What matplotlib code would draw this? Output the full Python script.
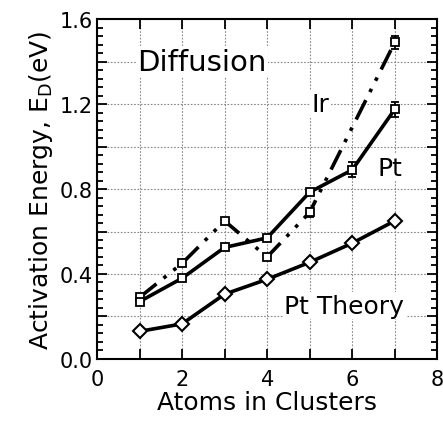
import numpy as np
import matplotlib.pyplot as plt
from matplotlib.ticker import MultipleLocator

# Diffusion barriers of small clusters vs. number of atoms
atoms = [1, 2, 3, 4, 5, 6, 7]

pt_ed = [0.27, 0.38, 0.525, 0.57, 0.785, 0.89, 1.175]
pt_err = [0.0, 0.0, 0.0, 0.0, 0.015, 0.035, 0.035]

ir_atoms = [1, 2, 3, 4, 5, 7]
ir_ed = [0.29, 0.45, 0.65, 0.48, 0.69, 1.49]
ir_err = [0.0, 0.0, 0.0, 0.0, 0.02, 0.03]

theory_ed = [0.13, 0.165, 0.305, 0.375, 0.455, 0.545, 0.65]

plt.rcParams['font.family'] = ['DejaVu Sans']

fig = plt.figure(figsize=(4.43, 4.27), dpi=100)
ax = fig.add_axes([0.219, 0.157, 0.768, 0.796])

ax.errorbar(ir_atoms, ir_ed, yerr=ir_err, color='black', lw=2.6,
            ls=(0, (6, 2.5, 1, 2.5, 1, 2.5)), marker='s', ms=6,
            mfc='white', mec='black', mew=1.3, capsize=3, elinewidth=1.3)
ax.errorbar(atoms, pt_ed, yerr=pt_err, color='black', lw=2.6, marker='s',
            ms=6, mfc='white', mec='black', mew=1.3, capsize=3,
            elinewidth=1.3)
ax.plot(atoms, theory_ed, color='black', lw=2.6, marker='D', ms=7,
        mfc='white', mec='black', mew=1.5)

ax.set_xlim(0, 8)
ax.set_ylim(0, 1.6)
ax.yaxis.set_minor_locator(MultipleLocator(0.04))
ax.set_xticks(range(0, 9))
ax.set_xticklabels([str(v) if v % 2 == 0 else '' for v in range(0, 9)])
ax.set_yticks(np.arange(0, 1.61, 0.2))
ax.set_yticklabels(['%.1f' % v if i % 2 == 0 else ''
                    for i, v in enumerate(np.arange(0, 1.61, 0.2))])

ax.tick_params(which='both', direction='in', top=True, right=True,
               labelsize=15, width=1.3, color='black')
ax.tick_params(which='major', length=7)
ax.tick_params(which='minor', length=4)
ax.tick_params(axis='x', pad=7)
ax.tick_params(axis='y', pad=3)

ax.grid(True, which='major', ls=(0, (1.5, 1.5)), lw=0.8, color='#888888')
for sp in ax.spines.values():
    sp.set_linewidth(1.5)

ax.set_xlabel('Atoms in Clusters', fontsize=18, labelpad=1)
ax.set_ylabel(r'Activation Energy, E$_\mathregular{D}$(eV)', fontsize=18,
              labelpad=3)

label_box = dict(facecolor='white', edgecolor='none', pad=1)
ax.text(0.94, 1.4, 'Diffusion', fontsize=21, va='center', ha='left',
        bbox=label_box)
ax.text(5.25, 1.2, 'Ir', fontsize=18, va='center', ha='center', bbox=label_box)
ax.text(6.6, 0.9, 'Pt', fontsize=18, va='center', ha='left', bbox=label_box)
ax.text(4.4, 0.25, 'Pt Theory', fontsize=18, va='center', ha='left',
        bbox=label_box)

fig.savefig('out.png', dpi=100)
